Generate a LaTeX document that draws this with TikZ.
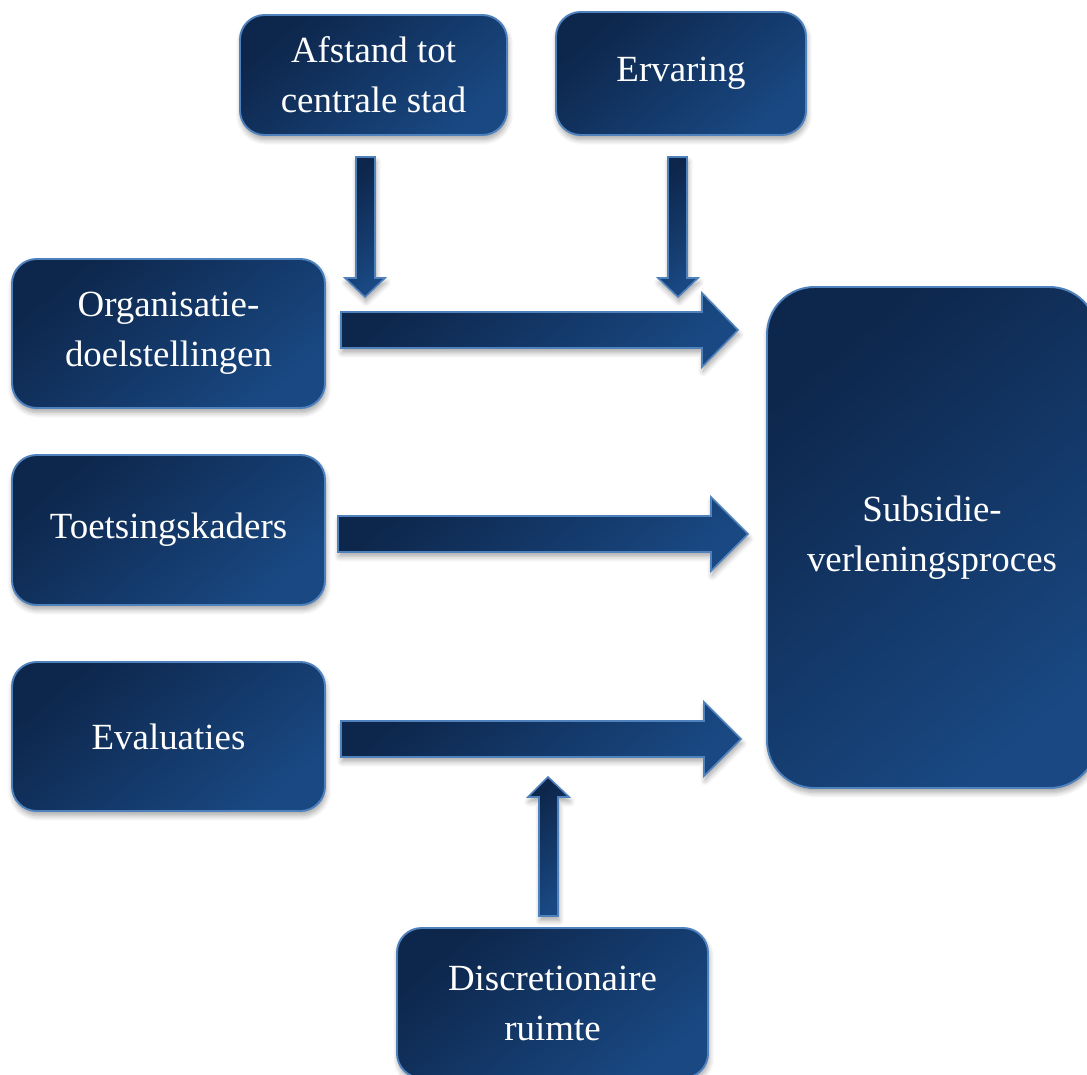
\documentclass[tikz,border=0pt]{standalone}
\usepackage{fontspec}
\setmainfont{Liberation Serif}
\usetikzlibrary{shadows.blur}
\definecolor{navyA}{RGB}{13,38,75}
\definecolor{navyB}{RGB}{25,72,130}
\definecolor{rim}{RGB}{79,129,189}
\tikzset{
  shadowfx/.style={blur shadow={shadow blur steps=6, shadow xshift=0.6pt, shadow yshift=-2.6pt, shadow blur radius=3pt, shadow opacity=35}},
  navyfill/.style={top color=navyA, bottom color=navyB, shading angle=40},
  box/.style={shadowfx, navyfill, draw=rim, line width=1.1pt, rounded corners=14pt,
    inner sep=0pt, align=center, text=white, font=\fontsize{21}{28.5}\selectfont},
  bigbox/.style={box, rounded corners=27pt},
  blockarrow/.style={shadowfx, navyfill, draw=rim, line width=0.9pt, line join=miter},
}
\newcommand{\sz}[2]{minimum width=#1*0.02cm, minimum height=#2*0.02cm}
\begin{document}
\begin{tikzpicture}[x=0.02cm,y=-0.02cm]
\useasboundingbox (0,0) rectangle (1087,1074);
\clip (0,0) rectangle (1087,1074);
% boxes (centre, size in px)
\node[box, minimum width=267*0.02cm, minimum height=120*0.02cm] (afstand) at (373.5,75) {Afstand tot\\centrale stad};
\node[box, minimum width=250*0.02cm, minimum height=123*0.02cm] (ervaring) at (681,73.5) {Ervaring};
\node[box, minimum width=313*0.02cm, minimum height=149*0.02cm] (org) at (168.5,333.5) {Organisatie-\\doelstellingen};
\node[box, minimum width=313*0.02cm, minimum height=150*0.02cm] (toets) at (168.5,530) {Toetsingskaders};
\node[box, minimum width=313*0.02cm, minimum height=149*0.02cm] (eval) at (168.5,736.5) {Evaluaties};
\node[bigbox, minimum width=330*0.02cm, minimum height=501*0.02cm] (sub) at (932,537.5) {Subsidie-\\verleningsproces};
\node[box, minimum width=311*0.02cm, minimum height=150*0.02cm] (disc) at (552.5,1003) {Discretionaire\\ruimte};
% block arrows
\draw[blockarrow] (341,312) -- (702,312) -- (702,293) -- (738,330) -- (702,367) -- (702,348) -- (341,348) -- cycle;
\draw[blockarrow] (338,516) -- (711,516) -- (711,497) -- (748,534) -- (711,571) -- (711,552) -- (338,552) -- cycle;
\draw[blockarrow] (341,721) -- (704,721) -- (704,702) -- (741,739) -- (704,776) -- (704,757) -- (341,757) -- cycle;
\draw[blockarrow] (356,157) -- (375,157) -- (375,278) -- (385,278) -- (365,297) -- (345,278) -- (356,278) -- cycle;
\draw[blockarrow] (668,157) -- (687,157) -- (687,278) -- (698,278) -- (678,297) -- (658,278) -- (668,278) -- cycle;
\draw[blockarrow] (539,916) -- (558,916) -- (558,797) -- (569,797) -- (548,777) -- (528,797) -- (539,797) -- cycle;
\end{tikzpicture}
\end{document}
